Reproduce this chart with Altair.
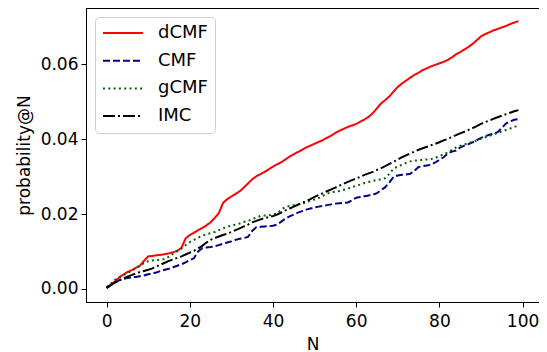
import altair as alt
import pandas as pd

methods = ["dCMF", "CMF", "gCMF", "IMC"]
colors = ["#ff0000", "#00008b", "#006400", "#000000"]

n_values = list(range(100))

dcmf = [0.0003, 0.0011, 0.0020, 0.0030, 0.0038, 0.0045, 0.0050, 0.0056, 0.0062, 0.0075,
        0.0087, 0.0088, 0.0090, 0.0091, 0.0093, 0.0095, 0.0098, 0.0102, 0.0110, 0.0135,
        0.0144, 0.0150, 0.0157, 0.0163, 0.0170, 0.0178, 0.0190, 0.0203, 0.0230, 0.0240,
        0.0247, 0.0254, 0.0261, 0.0271, 0.0282, 0.0293, 0.0301, 0.0307, 0.0313, 0.0320,
        0.0327, 0.0333, 0.0339, 0.0346, 0.0354, 0.0360, 0.0366, 0.0372, 0.0378, 0.0383,
        0.0388, 0.0393, 0.0398, 0.0404, 0.0410, 0.0417, 0.0423, 0.0428, 0.0433, 0.0437,
        0.0441, 0.0447, 0.0453, 0.0460, 0.0470, 0.0483, 0.0496, 0.0505, 0.0515, 0.0528,
        0.0540, 0.0549, 0.0557, 0.0565, 0.0572, 0.0578, 0.0585, 0.0590, 0.0595, 0.0599,
        0.0603, 0.0607, 0.0612, 0.0619, 0.0627, 0.0633, 0.0640, 0.0647, 0.0655, 0.0665,
        0.0675, 0.0681, 0.0686, 0.0691, 0.0695, 0.0699, 0.0703, 0.0708, 0.0712, 0.0716]

cmf = [0.0002, 0.0010, 0.0017, 0.0023, 0.0027, 0.0029, 0.0031, 0.0032, 0.0034, 0.0036,
       0.0039, 0.0042, 0.0044, 0.0048, 0.0051, 0.0054, 0.0058, 0.0062, 0.0066, 0.0071,
       0.0077, 0.0082, 0.0100, 0.0109, 0.0111, 0.0112, 0.0114, 0.0117, 0.0121, 0.0124,
       0.0127, 0.0131, 0.0134, 0.0136, 0.0139, 0.0155, 0.0165, 0.0166, 0.0167, 0.0168,
       0.0169, 0.0172, 0.0180, 0.0188, 0.0194, 0.0199, 0.0204, 0.0208, 0.0212, 0.0215,
       0.0218, 0.0220, 0.0222, 0.0224, 0.0226, 0.0228, 0.0229, 0.0230, 0.0231, 0.0237,
       0.0244, 0.0246, 0.0248, 0.0250, 0.0252, 0.0256, 0.0264, 0.0272, 0.0285, 0.0300,
       0.0303, 0.0305, 0.0306, 0.0308, 0.0316, 0.0326, 0.0328, 0.0330, 0.0332, 0.0338,
       0.0345, 0.0352, 0.0362, 0.0367, 0.0370, 0.0378, 0.0383, 0.0387, 0.0392, 0.0398,
       0.0404, 0.0408, 0.0412, 0.0415, 0.0419, 0.0430, 0.0442, 0.0448, 0.0452, 0.0454]

gcmf = [0.0005, 0.0014, 0.0024, 0.0031, 0.0037, 0.0043, 0.0048, 0.0055, 0.0062, 0.0069,
        0.0074, 0.0076, 0.0077, 0.0078, 0.0080, 0.0086, 0.0094, 0.0101, 0.0108, 0.0117,
        0.0125, 0.0131, 0.0137, 0.0142, 0.0146, 0.0149, 0.0152, 0.0157, 0.0162, 0.0166,
        0.0169, 0.0172, 0.0175, 0.0179, 0.0182, 0.0186, 0.0191, 0.0195, 0.0196, 0.0197,
        0.0198, 0.0202, 0.0212, 0.0219, 0.0222, 0.0224, 0.0226, 0.0228, 0.0232, 0.0236,
        0.0239, 0.0243, 0.0249, 0.0255, 0.0258, 0.0260, 0.0262, 0.0265, 0.0268, 0.0272,
        0.0276, 0.0279, 0.0283, 0.0286, 0.0289, 0.0291, 0.0293, 0.0296, 0.0308, 0.0322,
        0.0327, 0.0332, 0.0337, 0.0341, 0.0343, 0.0344, 0.0345, 0.0346, 0.0347, 0.0350,
        0.0355, 0.0360, 0.0365, 0.0372, 0.0378, 0.0382, 0.0386, 0.0390, 0.0393, 0.0397,
        0.0401, 0.0405, 0.0409, 0.0413, 0.0417, 0.0421, 0.0425, 0.0429, 0.0433, 0.0437]

imc = [0.0003, 0.0010, 0.0017, 0.0023, 0.0028, 0.0033, 0.0037, 0.0041, 0.0045, 0.0048,
       0.0051, 0.0055, 0.0060, 0.0065, 0.0070, 0.0075, 0.0079, 0.0083, 0.0087, 0.0092,
       0.0097, 0.0102, 0.0108, 0.0115, 0.0124, 0.0131, 0.0136, 0.0140, 0.0144, 0.0148,
       0.0152, 0.0157, 0.0162, 0.0167, 0.0172, 0.0178, 0.0182, 0.0186, 0.0189, 0.0192,
       0.0195, 0.0199, 0.0204, 0.0210, 0.0215, 0.0220, 0.0225, 0.0230, 0.0235, 0.0240,
       0.0246, 0.0251, 0.0256, 0.0261, 0.0266, 0.0271, 0.0276, 0.0281, 0.0286, 0.0291,
       0.0295, 0.0300, 0.0305, 0.0309, 0.0313, 0.0318, 0.0323, 0.0328, 0.0334, 0.0340,
       0.0346, 0.0352, 0.0357, 0.0362, 0.0367, 0.0372, 0.0376, 0.0380, 0.0384, 0.0388,
       0.0392, 0.0397, 0.0401, 0.0406, 0.0411, 0.0416, 0.0420, 0.0425, 0.0430, 0.0435,
       0.0441, 0.0446, 0.0450, 0.0455, 0.0459, 0.0463, 0.0467, 0.0471, 0.0475, 0.0478]

x_ticks = [0, 20, 40, 60, 80, 100]
y_ticks = [0.00, 0.02, 0.04, 0.06]

series = {"dCMF": dcmf, "CMF": cmf, "gCMF": gcmf, "IMC": imc}
rows = []
for m in methods:
    for n, v in zip(n_values, series[m]):
        rows.append({"N": n, "value": v, "method": m})
df = pd.DataFrame(rows)

FONT = "DejaVu Sans"

chart = alt.Chart(df).mark_line(strokeWidth=2, clip=True).encode(
    x=alt.X("N:Q",
            scale=alt.Scale(domain=[-4.95, 103.95], nice=False, zero=False),
            axis=alt.Axis(values=x_ticks, format="d", title="N",
                          labelPadding=6, titlePadding=7)),
    y=alt.Y("value:Q",
            scale=alt.Scale(domain=[-0.0035, 0.0751], nice=False, zero=False),
            axis=alt.Axis(values=y_ticks, format=".2f", title="probability@N",
                          labelPadding=3, titlePadding=7)),
    color=alt.Color("method:N",
                    scale=alt.Scale(domain=methods, range=colors),
                    sort=methods,
                    legend=alt.Legend(title=None, orient="top-left")),
    strokeDash=alt.StrokeDash("method:N",
                              scale=alt.Scale(domain=methods,
                                              range=[[1, 0], [7, 3], [2, 3.3], [12, 3, 2, 3]]),
                              sort=methods,
                              legend=alt.Legend(title=None, orient="top-left")),
    order=alt.Order("N:Q"),
).properties(
    width=453,
    height=294,
    autosize=alt.AutoSizeParams(type="none"),
    padding={"left": 78, "top": 0, "right": 0, "bottom": 52},
).configure_view(
    stroke="black", strokeWidth=1
).configure_axis(
    grid=False,
    domainColor="black",
    domainWidth=1,
    tickColor="black",
    tickSize=5,
    tickWidth=1,
    labelFont=FONT,
    labelFontSize=17,
    labelColor="black",
    titleFont=FONT,
    titleFontSize=17,
    titleFontWeight="normal",
    titleColor="black",
).configure_legend(
    labelFont=FONT,
    labelFontSize=18,
    labelColor="black",
    symbolType="M-1,0L4,0",
    symbolSize=256,
    symbolStrokeWidth=2,
    labelOffset=38,
    padding=7,
    rowPadding=9.7,
    offset=9,
    fillColor="white",
    strokeColor="#cccccc",
    cornerRadius=4,
)

chart.save("out.html", embed_options={"renderer": "svg", "actions": False})
